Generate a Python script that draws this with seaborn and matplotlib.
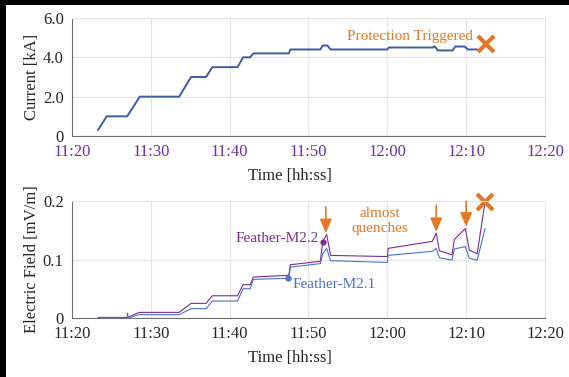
import matplotlib
matplotlib.use("Agg")
import matplotlib.pyplot as plt
import matplotlib.dates as mdates
from matplotlib.patches import Rectangle
import pandas as pd
import seaborn as sns

DAY = "2021-01-01 "

# Magnet current during the ramp
current_time = ["11:23:18", "11:24:24", "11:27:00", "11:28:36", "11:33:36", "11:35:06",
                "11:37:00", "11:37:48", "11:41:00", "11:41:42", "11:42:36", "11:43:00",
                "11:47:30", "11:47:42", "11:51:30", "11:51:48", "11:52:24", "11:52:48",
                "12:00:00", "12:00:12", "12:05:48", "12:06:00", "12:06:24", "12:08:18",
                "12:08:36", "12:09:48", "12:10:12", "12:11:24"]
current_ka = [0.3, 1.0, 1.0, 2.0, 2.0, 3.0,
              3.0, 3.5, 3.5, 4.0, 4.0, 4.2,
              4.2, 4.4, 4.4, 4.6, 4.6, 4.4,
              4.4, 4.5, 4.5, 4.56, 4.35, 4.35,
              4.55, 4.55, 4.4, 4.4]

# Electric field of the two Feather coils
field_time = ["11:23:18", "11:27:00", "11:27:03", "11:27:06", "11:28:30", "11:33:36",
              "11:35:06", "11:37:00", "11:37:48", "11:41:00", "11:41:42", "11:42:36",
              "11:43:00", "11:47:30", "11:47:42", "11:51:30", "11:51:48", "11:52:18",
              "11:52:48", "12:00:00", "12:00:06", "12:05:42", "12:06:12", "12:06:36",
              "12:08:12", "12:08:30", "12:09:54", "12:10:24", "12:11:24", "12:12:24"]
field_m22 = [0.001, 0.001, 0.008, 0.001, 0.0096, 0.0096,
             0.025, 0.025, 0.038, 0.038, 0.057, 0.057,
             0.070, 0.073, 0.091, 0.097, 0.130, 0.143,
             0.107, 0.105, 0.119, 0.131, 0.145, 0.115,
             0.108, 0.134, 0.153, 0.116, 0.110, 0.199]
field_m21 = [0.000, 0.000, 0.004, 0.000, 0.0057, 0.0057,
             0.016, 0.016, 0.029, 0.029, 0.050, 0.050,
             0.066, 0.068, 0.087, 0.093, 0.110, 0.119,
             0.098, 0.095, 0.107, 0.114, 0.119, 0.103,
             0.099, 0.118, 0.122, 0.102, 0.099, 0.153]

# Annotated points
m21_dot = ("11:47:24", 0.0676)
m22_dot = ("11:51:48", 0.130)
trip_current = ("12:12:30", 4.67)
trip_field = ("12:12:24", 0.199)
quench_arrows = [("11:52:12", 0.190, 0.145),
                 ("12:06:12", 0.193, 0.147),
                 ("12:10:00", 0.199, 0.156)]

BLUE_DARK = "#3E5C9E"
PURPLE = "#7B2F8F"
BLUE = "#4A74C9"
ORANGE = "#E2792A"
TICK_PURPLE = "#7030A0"


def ts(s):
    return pd.Timestamp(DAY + s)


cur_df = pd.DataFrame({"time": [ts(t) for t in current_time], "current": current_ka})
fld_df = pd.DataFrame({"time": [ts(t) for t in field_time],
                       "Feather-M2.2": field_m22, "Feather-M2.1": field_m21})

sns.set_theme(style="whitegrid")
plt.rcParams["font.family"] = ["Liberation Serif", "DejaVu Serif"]

fig = plt.figure(figsize=(5.69, 3.77), dpi=100)
fig.patch.set_facecolor("white")
ax1 = fig.add_axes([72 / 569, 1 - 136 / 377, 473 / 569, 118 / 377])
ax2 = fig.add_axes([72 / 569, 1 - 318 / 377, 473 / 569, 117 / 377])

sns.lineplot(data=cur_df, x="time", y="current", ax=ax1, color=BLUE_DARK, lw=1.4)
sns.lineplot(data=fld_df, x="time", y="Feather-M2.2", ax=ax2, color=PURPLE, lw=0.8)
sns.lineplot(data=fld_df, x="time", y="Feather-M2.1", ax=ax2, color=BLUE, lw=0.8)

xmin, xmax = ts("11:20:00"), ts("12:20:00")
for ax in (ax1, ax2):
    ax.set_facecolor("white")
    ax.set_xlim(xmin, xmax)
    ax.xaxis.set_major_locator(mdates.MinuteLocator(byminute=range(0, 60, 10)))
    ax.xaxis.set_major_formatter(mdates.DateFormatter("%H:%M"))
    ax.grid(True, color="#E6E6E6", lw=0.8)
    for side in ("left", "bottom"):
        ax.spines[side].set_color("#6E6E6E")
        ax.spines[side].set_linewidth(0.8)
    for side in ("top", "right"):
        ax.spines[side].set_color("#E6E6E6")
        ax.spines[side].set_linewidth(0.8)
    ax.tick_params(axis="both", direction="in", length=4, width=0.8, color="#6E6E6E",
                   labelsize=12, pad=6)
    ax.set_xlabel("Time [hh:ss]", fontsize=12)
    ax.xaxis.set_label_coords(0.46, -0.27)

ax1.set_ylim(0, 6)
ax1.set_yticks([0, 2, 4, 6])
ax1.set_yticklabels(["0", "2.0", "4.0", "6.0"])
ax1.tick_params(axis="x", labelcolor=TICK_PURPLE)
ax1.set_ylabel("Current [kA]", fontsize=12)
ax1.yaxis.set_label_coords(-0.068, 0.5)

ax2.set_ylim(0, 0.2)
ax2.set_yticks([0, 0.1, 0.2])
ax2.set_yticklabels(["0", "0.1", "0.2"])
ax2.set_ylabel("Electric Field [mV/m]", fontsize=12)
ax2.yaxis.set_label_coords(-0.068, 0.5)

# Protection trip in the current plot
ax1.plot(ts(trip_current[0]), trip_current[1], marker="x", ms=12, mew=3,
         color=ORANGE, clip_on=False)
ax1.text(ts("12:10:54"), 5.08, "Protection Triggered", color=ORANGE, fontsize=11,
         ha="right", va="center")

# Field annotations
ax2.plot(ts(m21_dot[0]), m21_dot[1], "o", ms=3.5, color=BLUE)
ax2.plot(ts(m22_dot[0]), m22_dot[1], "o", ms=3.5, color=PURPLE)
ax2.text(ts("11:48:00"), 0.058, "Feather-M2.1", color=BLUE, fontsize=11,
         ha="left", va="center")
ax2.text(ts("11:51:18"), 0.136, "Feather-M2.2", color=PURPLE, fontsize=11,
         ha="right", va="center")
ax2.plot(ts(trip_field[0]), trip_field[1], marker="x", ms=12, mew=3,
         color=ORANGE, clip_on=False)
ax2.text(ts("11:59:00"), 0.166, "almost\nquenches", color=ORANGE, fontsize=11,
         ha="center", va="center", linespacing=1.2)
for t, y0, y1 in quench_arrows:
    ax2.annotate("", xy=(ts(t), y1), xytext=(ts(t), y0),
                 arrowprops=dict(arrowstyle="-|>,head_length=0.7,head_width=0.3",
                                 color=ORANGE, lw=1.2, shrinkA=0, shrinkB=0),
                 annotation_clip=False)

# Dark frame strips along the top and left edges
fig.patches.append(Rectangle((0, 1 - 5 / 377), 1, 5 / 377, transform=fig.transFigure,
                             facecolor="black", edgecolor="none", zorder=10))
fig.patches.append(Rectangle((0, 0), 6 / 569, 1, transform=fig.transFigure,
                             facecolor="black", edgecolor="none", zorder=10))

fig.savefig("out.png", dpi=100, facecolor="white")
